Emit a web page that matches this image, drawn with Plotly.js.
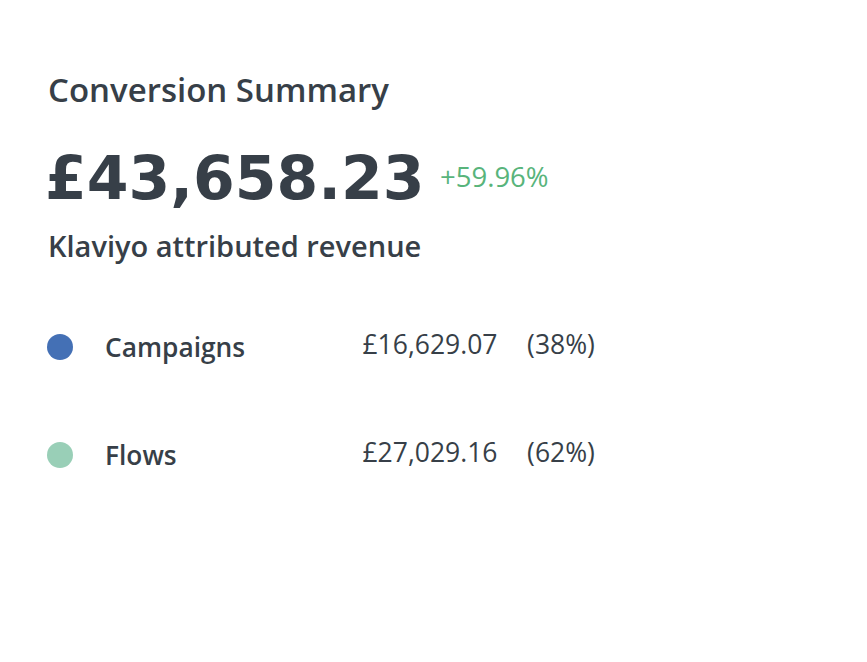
<!DOCTYPE html>
<html>
<head>
<meta charset="utf-8">
<script src="https://cdn.plot.ly/plotly-3.0.1.min.js"></script>
<style>
  html, body { margin: 0; padding: 0; background: #fff; }
  #chart { width: 867px; height: 662px; }
</style>
</head>
<body>
<div id="chart"></div>
<script>
// summary values
var title = 'Conversion Summary';
var totalRevenue = 43658.23;
var changePct = 59.96;
var subtitle = 'Klaviyo attributed revenue';

// breakdown rows
var categories = ['Campaigns', 'Flows'];
var revenue = [16629.07, 27029.16];
var shares = [38, 62];
var dotColors = ['#4470b5', '#99cfb7'];

var textColor = '#373f48';
var font = '"Open Sans", Lato, sans-serif';
var bigFont = '"DejaVu Sans", sans-serif';

function gbp(v) {
  return '£' + v.toLocaleString('en-GB', { minimumFractionDigits: 2, maximumFractionDigits: 2 });
}

var W = 867, H = 662;

var dots = {
  type: 'scatter',
  mode: 'markers',
  x: categories.map(function () { return 60; }),
  y: categories,
  marker: { size: 26, color: dotColors },
  hoverinfo: 'skip',
  showlegend: false
};

// amount and share columns, both centred
var values = {
  type: 'scatter',
  mode: 'text',
  x: categories.map(function () { return 430; }),
  y: categories,
  text: revenue.map(gbp),
  textposition: 'middle center',
  textfont: { family: font, size: 26.5, color: textColor },
  hoverinfo: 'skip',
  showlegend: false
};

var pcts = {
  type: 'scatter',
  mode: 'text',
  x: categories.map(function () { return 561; }),
  y: categories,
  text: shares.map(function (s) { return '(' + s + '%)'; }),
  textposition: 'middle center',
  textfont: { family: font, size: 26.5, color: textColor },
  hoverinfo: 'skip',
  showlegend: false
};

var annotations = [
  { text: title, xref: 'paper', yref: 'paper', x: 47 / W, y: 1 - 90 / H,
    font: { family: font, size: 33, weight: 600, color: textColor } },
  { text: gbp(totalRevenue), xref: 'paper', yref: 'paper', x: 44 / W, y: 1 - 178 / H,
    font: { family: bigFont, size: 60, weight: 700, color: textColor } },
  { text: '+' + changePct.toFixed(2) + '%', xref: 'paper', yref: 'paper', x: 439 / W, y: 1 - 176 / H,
    font: { family: font, size: 27.5, color: '#58b47b' } },
  { text: subtitle, xref: 'paper', yref: 'paper', x: 47 / W, y: 1 - 245 / H,
    font: { family: font, size: 29, weight: 600, color: textColor } }
].map(function (a) {
  a.xanchor = 'left';
  a.yanchor = 'middle';
  a.showarrow = false;
  a.borderpad = 0;
  return a;
});

categories.forEach(function (c) {
  annotations.push({
    text: c, xref: 'x', yref: 'y', x: 104, y: c,
    xanchor: 'left', yanchor: 'middle', showarrow: false, borderpad: 0,
    font: { family: font, size: 26.3, weight: 600, color: textColor }
  });
});

// 108px between rows, first row at 347px from the top
var rowGap = 108, firstRow = 347;
var yTop = -firstRow / rowGap, yBottom = yTop + H / rowGap;

var layout = {
  width: W,
  height: H,
  margin: { l: 0, r: 0, t: 0, b: 0 },
  paper_bgcolor: '#fff',
  plot_bgcolor: '#fff',
  xaxis: { range: [0, W], visible: false, fixedrange: true },
  yaxis: { type: 'category', categoryarray: categories, range: [yBottom, yTop],
           visible: false, fixedrange: true },
  annotations: annotations
};

Plotly.newPlot('chart', [dots, values, pcts], layout, { displayModeBar: false, staticPlot: true });
</script>
</body>
</html>
